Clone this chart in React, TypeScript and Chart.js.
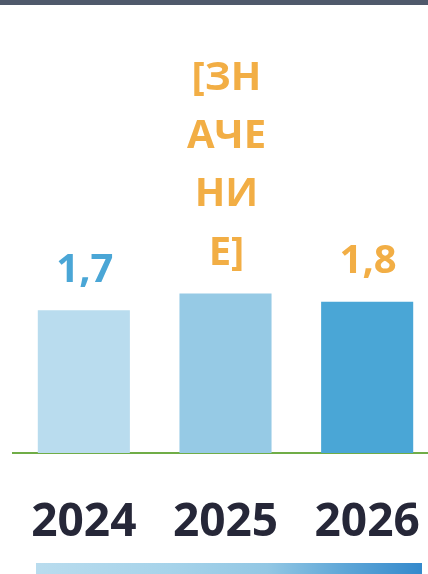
import React, { useEffect, useRef } from "react";
import { Chart, registerables } from "chart.js";

Chart.register(...registerables);

const categories = ["2024", "2025", "2026"];
const values = [1.7, 1.9, 1.8];
const barColors = ["#b9dcee", "#96cae5", "#4aa6d6"];
const valueLabelLines = [["1,7"], ["[ЗН", "АЧЕ", "НИ", "Е]"], ["1,8"]];
const valueLabelColors = ["#4aa6d6", "#f2ae45", "#f2ae45"];

const FONT = "'Open Sans', 'DejaVu Sans', sans-serif";

const valueLabelPlugin = {
  id: "valueLabels",
  afterDatasetsDraw(chart: any) {
    const ctx = chart.ctx;
    const meta = chart.getDatasetMeta(0);
    ctx.save();
    ctx.font = `700 40px ${FONT}`;
    ctx.textAlign = "center";
    ctx.textBaseline = "middle";
    meta.data.forEach((bar: any, i: number) => {
      const lines = valueLabelLines[i];
      ctx.fillStyle = valueLabelColors[i];
      const lineGap = 58.3;
      const n = lines.length;
      lines.forEach((line: string, j: number) => {
        const y = bar.y - 40 - (n - 1 - j) * lineGap;
        ctx.fillText(line, bar.x + 1, y);
      });
    });
    ctx.restore();
  },
};

export default function App() {
  const ref = useRef<HTMLCanvasElement>(null);
  useEffect(() => {
    if (!ref.current) return;
    const chart = new Chart(ref.current, {
      type: "bar",
      data: {
        labels: categories,
        datasets: [
          {
            data: values,
            backgroundColor: barColors,
            borderWidth: 0,
            barPercentage: 0.65,
            categoryPercentage: 1,
          },
        ],
      },
      options: {
        animation: false,
        responsive: false,
        maintainAspectRatio: false,
        layout: { padding: { top: 33, left: 13, right: 2, bottom: 0 } },
        plugins: { legend: { display: false }, tooltip: { enabled: false } },
        scales: {
          x: {
            grid: { display: false, drawTicks: false },
            border: { display: true, color: "#70ad47", width: 2 },
            ticks: {
              color: "#262738",
              font: { family: FONT, size: 46, weight: "bold", lineHeight: 1.2 },
              padding: 42,
            },
            afterFit: (scale: any) => {
              scale.height = 121;
              scale.paddingLeft = 0;
              scale.paddingRight = 0;
            },
          },
          y: {
            display: false,
            min: 0,
            max: 5,
          },
        },
      },
      plugins: [valueLabelPlugin],
    });
    return () => chart.destroy();
  }, []);

  return (
    <div
      style={{
        position: "fixed",
        left: 0,
        top: 0,
        width: 428,
        height: 574,
        overflow: "hidden",
        background: "#ffffff",
      }}
    >
      <canvas ref={ref} width={440} height={574} style={{ display: "block", width: 440, height: 574 }} />
      <div
        style={{
          position: "absolute",
          left: 0,
          top: 0,
          width: 428,
          height: 5,
          background: "#4f596b",
        }}
      />
      <div
        style={{
          position: "absolute",
          left: 36,
          top: 563,
          width: 386,
          height: 11,
          background: "linear-gradient(to right, #b9dcee 0%, #a6d3ea 35%, #92c7e4 60%, #5ea6d7 80%, #3489cc 100%)",
        }}
      />
    </div>
  );
}
